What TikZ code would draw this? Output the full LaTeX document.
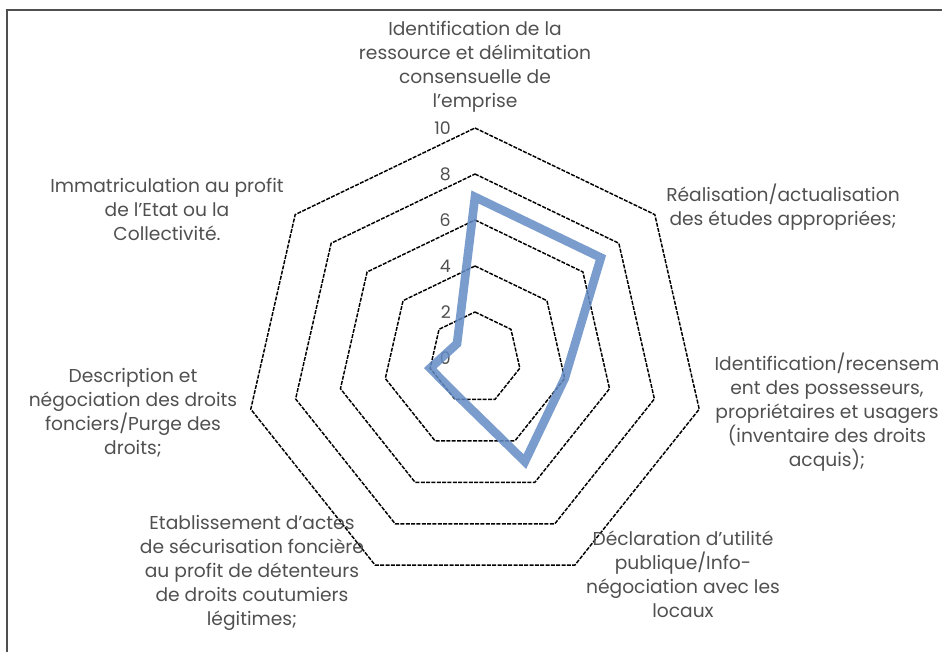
\documentclass[tikz,border=0pt]{standalone}
\usepackage{fontspec}
\setmainfont{Poppins}
\definecolor{axisgray}{RGB}{80,80,80}
\definecolor{serieblue}{RGB}{100,140,198}
\tikzset{
  grille/.style={draw=black, line width=1.1pt, dash pattern=on 3pt off 1pt},
  axelabel/.style={text=axisgray, align=center, inner sep=0pt, font=\fontsize{14}{18}\selectfont},
  graduation/.style={text=axisgray, anchor=east, inner sep=0pt, font=\fontsize{13}{14}\selectfont},
  serie/.style={draw=serieblue, line width=6.5pt, opacity=0.85}
}

\begin{document}
\begin{tikzpicture}[x=0.75pt,y=0.75pt]
\useasboundingbox (-475,-294) rectangle (467,358);
\draw[axisgray, line width=1.5pt] (-468,-294) -- (-468,348) -- (467,348);

\foreach \r in {2,4,...,10}
  \draw[grille] (90:\r*23) \foreach \k in {1,...,6} { -- (90-\k*360/7:\r*23) } -- cycle;

\foreach \v in {0,2,...,10}
  \node[graduation] (grad\v) at (-24,\v*23) {\v};

\foreach \v [count=\i] in {7,7,4,5,1.8,2,1}
  \coordinate (pt\i) at (90-\i*360/7+360/7:\v*23);
\draw[serie] (pt1) -- (pt2) -- (pt3) -- (pt4) -- (pt5) -- (pt6) -- (pt7) -- cycle;

\node[axelabel] (identif) at (0,291) {Identification de la\\ressource et délimitation\\consensuelle de\\l’emprise};
\node[axelabel] (etudes) at (308,151) {Réalisation/actualisation\\des études appropriées;};
\node[axelabel] (recens) at (352,-54) {Identification/recensem\\ent des possesseurs,\\propriétaires et usagers\\(inventaire des droits\\acquis);};
\node[axelabel] (declar) at (208,-216) {Déclaration d’utilité\\publique/Info-\\négociation avec les\\locaux};
\node[axelabel] (actes) at (-223,-215) {Etablissement d’actes\\de sécurisation foncière\\au profit de détenteurs\\de droits coutumiers\\légitimes;};
\node[axelabel] (purge) at (-342,-55) {Description et\\négociation des droits\\fonciers/Purge des\\droits;};
\node[axelabel] (immat) at (-308,149) {Immatriculation au profit\\de l’Etat ou la\\Collectivité.};
\end{tikzpicture}
\end{document}
